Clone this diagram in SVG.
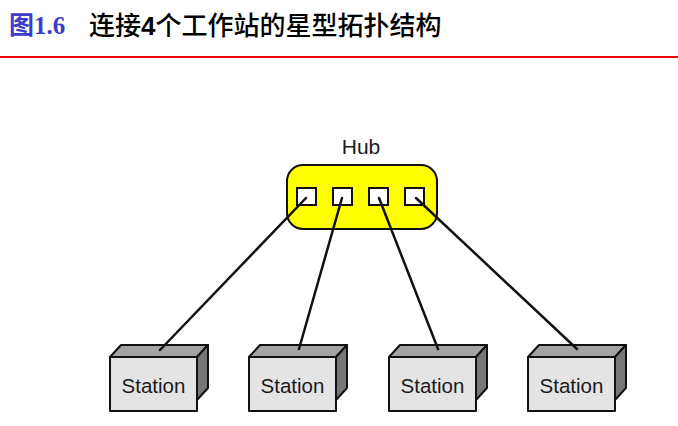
<svg xmlns="http://www.w3.org/2000/svg" width="678" height="426" viewBox="0 0 678 426">
<style>
.lbl{font-family:"Liberation Sans",Arial,sans-serif;font-size:20.5px;fill:#1a1a1a;text-anchor:middle}
.front{fill:#e4e4e4;stroke:#111;stroke-width:2;stroke-linejoin:round}
.top{fill:#a4a4a4;stroke:#111;stroke-width:2;stroke-linejoin:round}
.side{fill:#777;stroke:#111;stroke-width:2;stroke-linejoin:round}
.port{fill:#fff;stroke:#111;stroke-width:2}
.conn{stroke:#111;stroke-width:2.5;fill:none;stroke-linecap:round}
</style>
<defs>
<g id="box">
<polygon class="top" points="0,12 11,0 98,0 87,12"/>
<polygon class="side" points="87,12 98,0 98,43 87,55"/>
<rect class="front" x="0" y="12" width="87" height="54"/>
<text class="lbl" x="43.5" y="48">Station</text>
</g>
</defs>
<rect width="678" height="426" fill="#fff"/>
<g id="title">
<text x="9" y="34" font-family="'Liberation Serif','Noto Sans CJK SC',serif" font-weight="bold" font-size="25" fill="#3d3dc8">图1.6</text>
<text x="89" y="35" font-family="'Noto Sans CJK SC',sans-serif" font-weight="500" font-size="26" fill="#000">连接<tspan font-family="'Liberation Sans',sans-serif" font-weight="bold">4</tspan>个工作站的星型拓扑结构</text>
<line x1="0" y1="57" x2="678" y2="57" stroke="#e00" stroke-width="2"/>
</g>
<g id="hub">
<text class="lbl" x="361" y="154" style="font-size:21px">Hub</text>
<rect x="287" y="165" width="150" height="64" rx="16" fill="#ffff00" stroke="#111" stroke-width="2"/>
<rect class="port" x="297" y="188" width="19" height="17"/>
<rect class="port" x="333" y="188" width="19" height="17"/>
<rect class="port" x="369" y="188" width="19" height="17"/>
<rect class="port" x="405" y="188" width="19" height="17"/>
</g>
<g id="station1"><use href="#box" x="110" y="345"/></g>
<g id="station2"><use href="#box" x="249" y="345"/></g>
<g id="station3"><use href="#box" x="389" y="345"/></g>
<g id="station4"><use href="#box" x="528" y="345"/></g>
<g id="connectors">
<line class="conn" x1="306" y1="198" x2="160" y2="350"/>
<line class="conn" x1="342" y1="198" x2="299" y2="349"/>
<line class="conn" x1="379" y1="198" x2="438" y2="349"/>
<line class="conn" x1="416" y1="198" x2="577" y2="349"/>
</g>
</svg>
